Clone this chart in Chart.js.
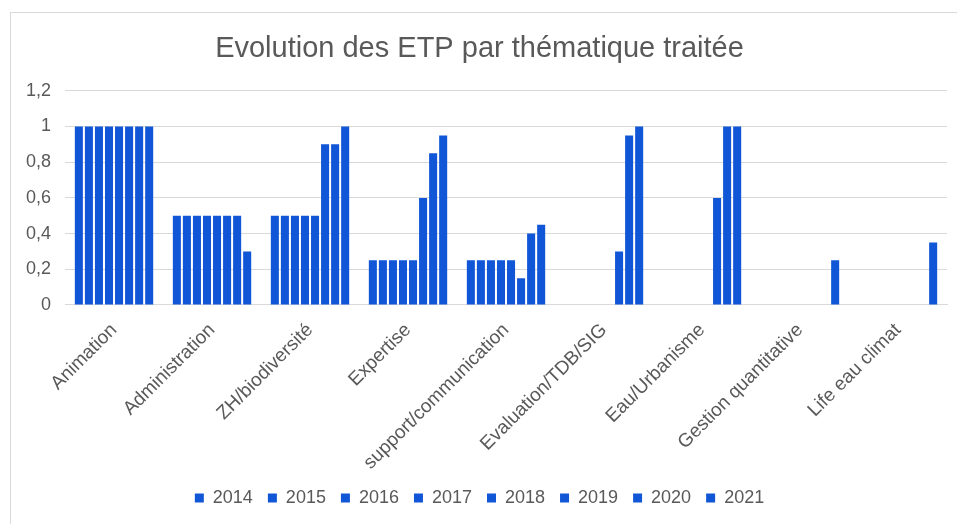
<!DOCTYPE html>
<html>
<head>
<meta charset="utf-8">
<script src="https://cdn.jsdelivr.net/npm/chart.js@4"></script>
<style>
  body { margin: 0; background: #fff; }
  #frame { position: absolute; left: 10px; top: 12px; width: 960px; height: 530px; border: 1px solid #d9d9d9; }
  #myChart { position: absolute; left: 0; top: 0; }
</style>
</head>
<body>
<div id="frame"></div>
<canvas id="myChart" width="957" height="524"></canvas>
<script>
const categories = ['Animation', 'Administration', 'ZH/biodiversité', 'Expertise', 'support/communication',
  'Evaluation/TDB/SIG', 'Eau/Urbanisme', 'Gestion quantitative', 'Life eau climat'];
const years = ['2014', '2015', '2016', '2017', '2018', '2019', '2020', '2021'];

const v2014 = [1, 0.5, 0.5, 0.25, 0.25, 0, 0, 0, 0];
const v2015 = [1, 0.5, 0.5, 0.25, 0.25, 0, 0, 0, 0];
const v2016 = [1, 0.5, 0.5, 0.25, 0.25, 0, 0, 0, 0];
const v2017 = [1, 0.5, 0.5, 0.25, 0.25, 0, 0, 0, 0];
const v2018 = [1, 0.5, 0.5, 0.25, 0.25, 0, 0, 0, 0];
const v2019 = [1, 0.5, 0.9, 0.6, 0.15, 0.3, 0.6, 0, 0];
const v2020 = [1, 0.5, 0.9, 0.85, 0.4, 0.95, 1, 0, 0];
const v2021 = [1, 0.3, 1, 0.95, 0.45, 1, 1, 0.25, 0.35];

const yTicks = [0, 0.2, 0.4, 0.6, 0.8, 1, 1.2];

const series = [v2014, v2015, v2016, v2017, v2018, v2019, v2020, v2021];
const blue = '#1156d6';
const grey = '#595959';
const font = '"Liberation Sans", Arial, sans-serif';

const ctx = document.getElementById('myChart');

new Chart(ctx, {
  type: 'bar',
  data: {
    labels: categories,
    datasets: series.map((d, i) => ({
      label: years[i],
      data: d,
      backgroundColor: blue,
      borderWidth: 0,
      categoryPercentage: 0.82,
      barPercentage: 0.8
    }))
  },
  options: {
    responsive: false,
    animation: false,
    layout: { padding: { left: 12, right: 10, top: 32, bottom: 7 } },
    plugins: {
      title: {
        display: true,
        text: 'Evolution des ETP par thématique traitée',
        color: grey,
        font: { family: font, size: 29, weight: 'normal' },
        padding: { top: 0, bottom: 24 }
      },
      legend: {
        position: 'bottom',
        labels: {
          color: grey,
          font: { family: font, size: 18 },
          usePointStyle: true,
          pointStyle: 'rect',
          boxWidth: 9,
          boxHeight: 9,
          padding: 15
        }
      },
      tooltip: { enabled: false }
    },
    scales: {
      x: {
        grid: { display: false },
        border: { color: '#d9d9d9' },
        // labels sit a bit closer to the legend in the original
        afterFit: scale => { scale.height -= 6; },
        ticks: {
          color: grey,
          font: { family: font, size: 19 },
          minRotation: 45,
          maxRotation: 45,
          padding: 6
        }
      },
      y: {
        min: 0,
        max: 1.2,
        afterBuildTicks: axis => { axis.ticks = yTicks.map(v => ({ value: v })); },
        grid: { color: '#d9d9d9', drawTicks: false },
        border: { display: false },
        ticks: {
          color: grey,
          font: { family: font, size: 18 },
          padding: 14,
          callback: v => String(Math.round(v * 10) / 10).replace('.', ',')
        }
      }
    }
  }
});
</script>
</body>
</html>
